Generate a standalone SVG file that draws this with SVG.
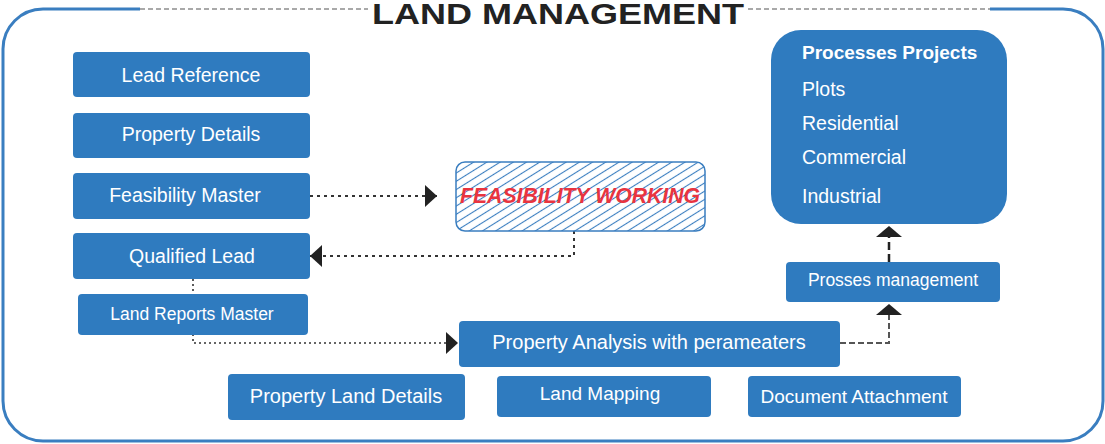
<svg xmlns="http://www.w3.org/2000/svg" width="1105" height="444" viewBox="0 0 1105 444">
<style>
.box{fill:#2f7bbf;}
.lbl{fill:#ffffff;font-family:"Liberation Sans",Arial,sans-serif;text-anchor:middle;}
.frame{fill:none;stroke:#3a7ec0;stroke-width:3;}
.tdash{fill:none;stroke:#555;stroke-width:1.2;stroke-dasharray:5 3;}
.dot{fill:none;stroke:#333;stroke-width:2;stroke-dasharray:3 4;}
.fine{fill:none;stroke:#333;stroke-width:1.6;stroke-dasharray:2 3;}
.dash{fill:none;stroke:#555;stroke-width:2;stroke-dasharray:6 3;}
.dash2{fill:none;stroke:#222;stroke-width:2.5;stroke-dasharray:8 4;}
</style>
<defs>
<marker id="ah" markerUnits="userSpaceOnUse" markerWidth="13" markerHeight="24" refX="12" refY="11" orient="auto">
<path d="M0,0 L12,11 L0,22 Z" fill="#222"/>
</marker>
<marker id="ahw" markerUnits="userSpaceOnUse" markerWidth="13" markerHeight="28" refX="11" refY="13" orient="auto">
<path d="M0,0 L11,13 L0,26 Z" fill="#222"/>
</marker>
<pattern id="hatch" patternUnits="userSpaceOnUse" width="7" height="7" patternTransform="rotate(-32)">
<line x1="0" y1="3.5" x2="7" y2="3.5" stroke="#3a7ec0" stroke-width="1.1"/>
</pattern>
</defs>

<g id="frame">
<path class="frame" d="M140,9 H43 A40,40 0 0 0 3,49 V401 A40,40 0 0 0 43,441 H1063 A40,40 0 0 0 1103,401 V49 A40,40 0 0 0 1063,9 H990"/>
<path class="tdash" d="M140,9 H368 M748,9 H990"/>
<rect x="370" y="0" width="376" height="14" fill="#ffffff"/>
<text x="558" y="24" font-family="Liberation Sans,Arial,sans-serif" font-weight="bold" font-size="29" fill="#222" text-anchor="middle" textLength="372" lengthAdjust="spacingAndGlyphs">LAND MANAGEMENT</text>
</g>

<g id="connectors">
<path class="dot" d="M310,196 H437" marker-end="url(#ah)"/>
<path class="dot" d="M574,231 V256 H310" marker-end="url(#ah)"/>
<path class="fine" d="M193,279 V343 H458" marker-end="url(#ah)"/>
<path class="dash" d="M840,343 H889 V304" marker-end="url(#ahw)"/>
<path class="dash2" d="M889,262 V226" marker-end="url(#ahw)"/>
</g>

<g id="lead-reference">
<rect class="box" x="73" y="52" width="237" height="45" rx="4"/>
<text class="lbl" x="191" y="82" font-size="19.5">Lead Reference</text>
</g>
<g id="property-details">
<rect class="box" x="73" y="113" width="237" height="45" rx="4"/>
<text class="lbl" x="191" y="141" font-size="19.5">Property Details</text>
</g>
<g id="feasibility-master">
<rect class="box" x="73" y="173" width="237" height="46" rx="4"/>
<text class="lbl" x="185" y="202" font-size="19.5">Feasibility Master</text>
</g>
<g id="qualified-lead">
<rect class="box" x="73" y="233" width="237" height="46" rx="4"/>
<text class="lbl" x="192" y="263" font-size="19.5">Qualified Lead</text>
</g>
<g id="land-reports-master">
<rect class="box" x="78" y="294" width="230" height="41" rx="4"/>
<text class="lbl" x="192" y="320" font-size="17.5">Land Reports Master</text>
</g>
<g id="feasibility-working">
<rect x="456" y="162" width="249" height="69" rx="9" fill="url(#hatch)" stroke="#3a7ec0" stroke-width="1.5"/>
<text x="580" y="203" font-family="Liberation Sans,Arial,sans-serif" font-weight="bold" font-style="italic" font-size="21.5" fill="#e8343f" text-anchor="middle" textLength="240" lengthAdjust="spacingAndGlyphs">FEASIBILITY WORKING</text>
</g>
<g id="processes-projects">
<rect class="box" x="771" y="30" width="236" height="194" rx="30"/>
<text x="802" y="59" font-family="Liberation Sans,Arial,sans-serif" font-weight="bold" font-size="19" fill="#fff">Processes Projects</text>
<text x="802" y="96" font-family="Liberation Sans,Arial,sans-serif" font-size="19.5" fill="#fff">Plots</text>
<text x="802" y="130" font-family="Liberation Sans,Arial,sans-serif" font-size="19.5" fill="#fff">Residential</text>
<text x="802" y="164" font-family="Liberation Sans,Arial,sans-serif" font-size="19.5" fill="#fff">Commercial</text>
<text x="802" y="203" font-family="Liberation Sans,Arial,sans-serif" font-size="19.5" fill="#fff">Industrial</text>
</g>
<g id="prosses-management">
<rect class="box" x="786" y="262" width="214" height="40" rx="4"/>
<text class="lbl" x="893" y="286" font-size="17.5">Prosses management</text>
</g>
<g id="property-analysis">
<rect class="box" x="459" y="321" width="381" height="46" rx="4"/>
<text class="lbl" x="649" y="349" font-size="20">Property Analysis with perameaters</text>
</g>
<g id="property-land-details">
<rect class="box" x="228" y="374" width="237" height="46" rx="4"/>
<text class="lbl" x="346" y="403" font-size="20">Property Land Details</text>
</g>
<g id="land-mapping">
<rect class="box" x="497" y="376" width="214" height="41" rx="4"/>
<text class="lbl" x="600" y="400" font-size="19">Land Mapping</text>
</g>
<g id="document-attachment">
<rect class="box" x="748" y="376" width="213" height="41" rx="4"/>
<text class="lbl" x="854" y="403" font-size="19">Document Attachment</text>
</g>
</svg>
